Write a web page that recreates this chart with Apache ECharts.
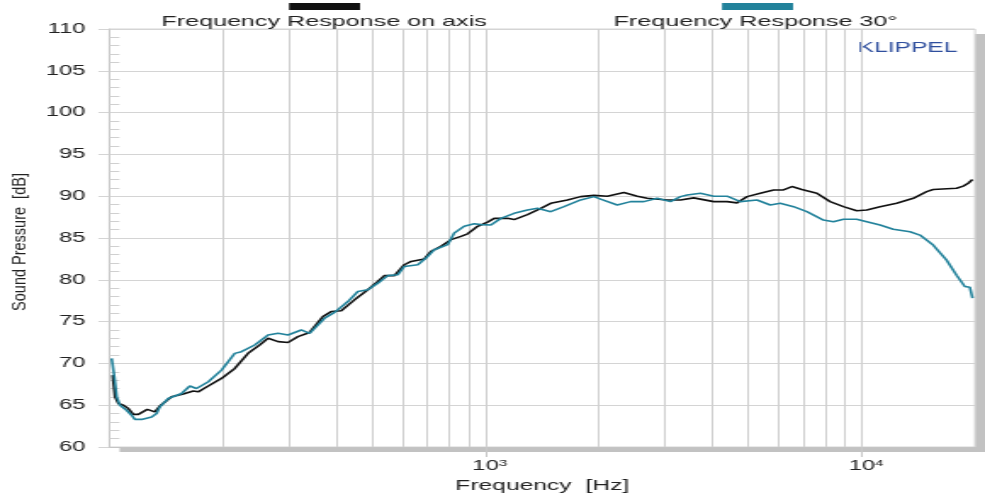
<!DOCTYPE html>
<html lang="en">
<head>
    <meta charset="UTF-8">
    <title>Frequency Response</title>
    <script src="https://cdn.jsdelivr.net/npm/echarts@6/dist/echarts.min.js"></script>
    <style>
        body { margin: 0; background: #fff; }
        /* the picture is a horizontally stretched plot, so draw narrow and stretch */
        #chart {
            width: 580px;
            height: 493px;
            transform: scaleX(1.69828);
            transform-origin: 0 0;
        }
    </style>
</head>
<body>
    <div id="chart"></div>
    <script>
        // on axis
        var freqAxis = [102, 103.5, 105.7, 108.9, 112.3, 115.8, 119.4, 126.1, 132.1, 136.2, 146.3, 157.1, 167.1, 172.2, 183.2, 198.6, 215.4, 233.7, 250.8, 264.1, 280.8, 298.4, 317.1, 340.5, 369.5, 388.8, 413.3, 448.3, 486.4, 517, 538.3, 572.3, 608.3, 633.8, 687.3, 716, 761.1, 809.1, 860.1, 896, 952.4, 1012, 1054, 1144, 1191, 1292, 1402, 1490, 1650, 1789, 1942, 2107, 2332, 2531, 2690, 3040, 3297, 3575, 4041, 4385, 4660, 4955, 5374, 5829, 6194, 6522, 6930, 7596, 8239, 8938, 9698, 10311, 11184, 12381, 13707, 14874, 15482, 17865, 18605, 19180, 19700];
        var splAxis = [68.6, 66.0, 65.2, 65.0, 64.6, 63.9, 63.9, 64.5, 64.2, 64.9, 66.0, 66.35, 66.7, 66.6, 67.3, 68.2, 69.4, 71.2, 72.2, 73.0, 72.6, 72.5, 73.2, 73.7, 75.6, 76.2, 76.3, 77.6, 78.8, 79.8, 80.5, 80.5, 81.8, 82.2, 82.5, 83.4, 84.0, 84.8, 85.2, 85.5, 86.4, 86.9, 87.35, 87.35, 87.2, 87.8, 88.55, 89.15, 89.55, 89.95, 90.1, 90.0, 90.45, 90.0, 89.75, 89.55, 89.55, 89.8, 89.35, 89.35, 89.2, 89.95, 90.35, 90.75, 90.75, 91.15, 90.8, 90.35, 89.35, 88.75, 88.25, 88.35, 88.75, 89.15, 89.75, 90.55, 90.8, 90.95, 91.2, 91.55, 92.0];
        // 30 degrees
        var freq30 = [101.4, 103.1, 104.6, 106.7, 111.1, 114.6, 116.9, 121.8, 129.5, 133.5, 136.2, 143.4, 155.5, 163.6, 170.4, 183.2, 198.6, 215.4, 224.4, 243.4, 264.1, 280.8, 298.4, 323.6, 340.5, 373.2, 396.7, 430.5, 457.6, 486.4, 517, 549.7, 584.3, 608.3, 660.2, 694.5, 730.7, 792.9, 825.5, 877.5, 932.8, 971.6, 1033, 1098, 1191, 1292, 1374, 1490, 1616, 1789, 1942, 2022, 2239, 2429, 2635, 2859, 3101, 3297, 3434, 3725, 4041, 4385, 4755, 5266, 5713, 6071, 6587, 7146, 7908, 8408, 8938, 9698, 10311, 11184, 12127, 13432, 14275, 15482, 16806, 17865, 18793, 19380, 19700];
        var spl30 = [70.6, 68.4, 66.0, 65.0, 64.4, 63.8, 63.3, 63.3, 63.6, 64.0, 64.8, 65.8, 66.4, 67.3, 67.0, 67.8, 69.2, 71.2, 71.4, 72.2, 73.4, 73.6, 73.4, 74.0, 73.6, 75.4, 76.1, 77.4, 78.6, 78.8, 79.6, 80.5, 80.6, 81.6, 81.8, 82.6, 83.6, 84.2, 85.6, 86.4, 86.7, 86.6, 86.55, 87.35, 87.95, 88.35, 88.55, 88.15, 88.75, 89.55, 89.95, 89.65, 88.95, 89.35, 89.35, 89.75, 89.35, 89.95, 90.15, 90.35, 90.0, 90.0, 89.35, 89.55, 88.95, 89.15, 88.75, 88.15, 87.15, 86.95, 87.25, 87.25, 86.95, 86.55, 86.05, 85.75, 85.35, 84.15, 82.35, 80.55, 79.2, 79.1, 77.8];

        var xLabelValues = [1000, 10000];
        var xGridValues = [200, 300, 400, 500, 600, 700, 800, 900, 1000, 2000, 3000, 4000, 5000, 6000, 7000, 8000, 9000, 10000];
        var seriesNames = ['Frequency Response on axis', 'Frequency Response 30\u00b0'];
        var seriesColors = ['#111111', '#22829b'];

        var SX = 1.69828; // horizontal stretch of the container
        var font = 'Liberation Sans, Arial, sans-serif';
        var plot = { left: 64.4, right: 5.9, top: 29, bottom: 46 };

        function pairs(xs, ys) {
            var out = [];
            for (var i = 0; i < xs.length; i++) out.push([xs[i], ys[i]]);
            return out;
        }

        var chart = echarts.init(document.getElementById('chart'));
        var plotW = 580 - plot.left - plot.right;
        var plotH = 493 - plot.top - plot.bottom;

        var option = {
            animation: false,
            textStyle: { fontFamily: font },
            grid: {
                left: plot.left, right: plot.right, top: plot.top, bottom: plot.bottom,
                outerBoundsMode: 'none',
                containLabel: false,
                show: true,
                backgroundColor: '#fff',
                borderColor: '#d4d4d4',
                borderWidth: 1
            },
            xAxis: [{
                type: 'log',
                logBase: 10,
                min: 100,
                max: 20000,
                name: 'Frequency  [Hz]',
                nameLocation: 'middle',
                nameGap: 29,
                nameTextStyle: { fontSize: 14.5, color: '#222' },
                axisLine: { lineStyle: { color: '#c4c4c4' } },
                axisTick: { customValues: xLabelValues, length: 10, lineStyle: { color: '#c8c8c8' } },
                axisLabel: {
                    customValues: xLabelValues,
                    margin: 12,
                    color: '#222',
                    fontSize: 14,
                    formatter: function (v) {
                        var e = Math.round(Math.log10(v));
                        return '{h|' + e + '}10{sup|' + e + '}';
                    },
                    rich: {
                        h: { fontSize: 9, color: 'rgba(0,0,0,0)' },
                        sup: { fontSize: 9, color: '#222', verticalAlign: 'top', padding: [0, 0, 6, 0] }
                    }
                },
                splitLine: { show: false }
            }, {
                type: 'log',
                logBase: 10,
                min: 100,
                max: 20000,
                position: 'top',
                axisLine: { show: false },
                axisTick: { show: false, customValues: xGridValues },
                axisLabel: { show: false },
                splitLine: { show: true, lineStyle: { color: '#d0d0d0', width: 1 } }
            }],
            yAxis: {
                type: 'value',
                min: 60,
                max: 110,
                interval: 5,
                axisLine: { show: true, lineStyle: { color: '#c8c8c8' } },
                axisTick: { show: true, length: 6.5, lineStyle: { color: '#d4d4d4' } },
                minorTick: { show: true, splitNumber: 5, length: -5.9, lineStyle: { color: '#d0d0d0' } },
                axisLabel: { margin: 14, color: '#222', fontSize: 14 },
                splitLine: { show: true, lineStyle: { color: '#d4d4d4' } }
            },
            graphic: [
                // drop shadow behind the plot frame
                { type: 'rect', z: -10, left: plot.left + 6, top: plot.top + 5, shape: { width: plotW, height: plotH }, style: { fill: '#c2c2c2' } },
                { type: 'rect', left: 170.2, top: 3, shape: { width: 41.8, height: 7 }, style: { fill: seriesColors[0] } },
                { type: 'text', x: 190.8, y: 21.5, style: { text: seriesNames[0], fill: '#222', font: '14.8px ' + font, textAlign: 'center', textVerticalAlign: 'middle', align: 'center', verticalAlign: 'middle' } },
                { type: 'rect', left: 425.1, top: 3, shape: { width: 41.9, height: 7 }, style: { fill: seriesColors[1] } },
                { type: 'text', x: 444.9, y: 21.5, style: { text: seriesNames[1], fill: '#222', font: '14.8px ' + font, textAlign: 'center', textVerticalAlign: 'middle', align: 'center', verticalAlign: 'middle' } },
                { type: 'text', x: 534.4, y: 48, style: { text: 'KLIPPEL', fill: '#2f4f9e', font: '14.5px ' + font, textAlign: 'center', textVerticalAlign: 'middle', align: 'center', verticalAlign: 'middle' } },
                // y axis name is stretched less than the rest of the picture
                { type: 'text', x: 12.3, y: 242, rotation: Math.PI / 2, scaleY: 1.28 / SX, style: { text: 'Sound Pressure  [dB]', fill: '#222', font: '14.5px ' + font, textAlign: 'center', textVerticalAlign: 'middle', align: 'center', verticalAlign: 'middle' } }
            ],
            series: [{
                name: seriesNames[0],
                type: 'line',
                showSymbol: false,
                data: pairs(freqAxis, splAxis),
                lineStyle: { color: seriesColors[0], width: 1.6 },
                itemStyle: { color: seriesColors[0] }
            }, {
                name: seriesNames[1],
                type: 'line',
                showSymbol: false,
                data: pairs(freq30, spl30),
                lineStyle: { color: seriesColors[1], width: 1.6 },
                itemStyle: { color: seriesColors[1] }
            }]
        };
        chart.setOption(option);
    </script>
</body>
</html>
